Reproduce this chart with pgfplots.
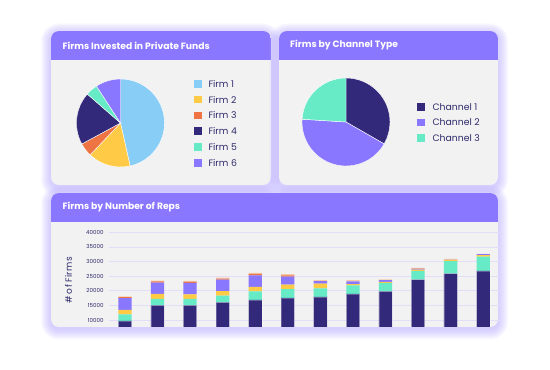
\documentclass[border=0pt]{standalone}
\usepackage{pgfplots}
\pgfplotsset{compat=1.18}
\usepackage{fontspec}
\setmainfont{Poppins}
\definecolor{hdr}{HTML}{8A77FF}
\definecolor{navy}{HTML}{33297B}
\definecolor{txt}{HTML}{2F2A6B}
\definecolor{fblue}{HTML}{88CDF6}
\definecolor{fyel}{HTML}{FFCB47}
\definecolor{forg}{HTML}{EF7443}
\definecolor{mint}{HTML}{67EAC6}
\definecolor{purp}{HTML}{8A77FF}
\definecolor{peach}{HTML}{F5C9A8}
\definecolor{cardbg}{HTML}{F2F2F2}
\definecolor{gridc}{HTML}{E4DDF8}
\definecolor{glow}{HTML}{B9ACFF}
\newcommand\pieslice[3]{\filldraw[fill=#1, draw=white, line width=0.4pt] (axis cs:0,0) -- ++({90-3.6*#2}:44pt) arc[start angle={90-3.6*#2}, end angle={90-3.6*#3}, radius=44pt] -- cycle;}
\newcommand\card[5]{% x1 y1 x2 y2 headerbottom y
  \foreach \k in {1,...,10}{
    \fill[glow, opacity=0.07, rounded corners={8pt+\k pt}] (#1pt-\k pt,#2pt-\k pt-2.5pt) rectangle (#3pt+\k pt,#4pt+\k pt-2.5pt);
  }
  \fill[cardbg, rounded corners=8pt] (#1pt,#2pt) rectangle (#3pt,#4pt);
  \begin{scope}
    \clip[rounded corners=8pt] (#1pt,#2pt) rectangle (#3pt,#4pt);
    \fill[hdr] (#1pt,#5pt) rectangle (#3pt,#4pt);
  \end{scope}}
\begin{document}
\begin{tikzpicture}
\fill[white] (0pt,0pt) rectangle (550pt,370pt);
% cards
\card{51}{185}{271}{339}{310}
\card{279}{185}{498}{339}{310}
\card{51}{43}{498}{177}{148}
% titles
\node[anchor=west, inner xsep=0pt, text=white, font=\bfseries\fontsize{9.2}{11}\selectfont] at (62.5pt,324.5pt) {Firms Invested in Private Funds};
\node[anchor=west, inner xsep=0pt, text=white, font=\bfseries\fontsize{9.2}{11}\selectfont] at (290pt,324.5pt) {Firms by Channel Type};
\node[anchor=west, inner xsep=0pt, text=white, font=\bfseries\fontsize{9.2}{11}\selectfont] at (62.5pt,162.7pt) {Firms by Number of Reps};
% pie 1
\begin{axis}[at={(120.5pt,247pt)}, anchor=center, scale only axis, width=88pt, height=88pt,
  xmin=-1, xmax=1, ymin=-1, ymax=1, hide axis]
\pieslice{fblue}{0}{46.5}
\pieslice{fyel}{46.5}{62.1}
\pieslice{forg}{62.1}{67.1}
\pieslice{navy}{67.1}{86.4}
\pieslice{mint}{86.4}{90.8}
\pieslice{purp}{90.8}{100}
\end{axis}
% legend 1
\foreach \c/\l [count=\i] in {fblue/Firm 1,fyel/Firm 2,forg/Firm 3,navy/Firm 4,mint/Firm 5,purp/Firm 6}{
  \fill[\c] (197.7pt-3.85pt,370pt-83.7pt-15.86pt*\i+15.86pt-3.85pt) rectangle ++(7.7pt,7.7pt);
  \node[anchor=west, inner sep=0pt, text=txt, font=\fontsize{9.3}{10}\selectfont] at (208.3pt,370pt-83.7pt-15.86pt*\i+15.86pt) {\l};
}
% pie 2
\begin{axis}[at={(346pt,248pt)}, anchor=center, scale only axis, width=88pt, height=88pt,
  xmin=-1, xmax=1, ymin=-1, ymax=1, hide axis]
\pieslice{navy}{0}{33.3}
\pieslice{purp}{33.3}{76.0}
\pieslice{mint}{76.0}{100}
\end{axis}
\foreach \c/\l [count=\i] in {navy/Channel 1,purp/Channel 2,mint/Channel 3}{
  \fill[\c] (421.2pt-3.85pt,370pt-107pt-15.6pt*\i+15.6pt-3.85pt) rectangle ++(7.7pt,7.7pt);
  \node[anchor=west, inner sep=0pt, text=txt, font=\fontsize{9.3}{10}\selectfont] at (432.3pt,370pt-107pt-15.6pt*\i+15.6pt) {\l};
}
% bar chart
\node[rotate=90, text=txt, font=\fontsize{9}{10}\selectfont] at (68.5pt,90pt) {\#\hspace{1.5pt}o\hspace{0.8pt}f\hspace{1.5pt}F\hspace{0.5pt}i\hspace{0.5pt}r\hspace{0.5pt}m\hspace{0.5pt}s};
\begin{axis}[at={(109pt,43pt)}, anchor=south west, scale only axis, width=390.5pt, height=94.7pt,
  xmin=-0.49, xmax=11.5, ymin=7600, ymax=40000,
  ybar stacked, bar width=13.3pt,
  axis line style={draw=none}, major tick length=0pt,
  xtick=\empty, ytick={10000,15000,...,40000}, scaled y ticks=false,
  ymajorgrids, grid style={gridc, line width=0.8pt},
  yticklabel style={font=\fontsize{5.5}{6}\selectfont, text=txt, xshift=-2pt},
  /pgf/number format/.cd, 1000 sep={}, assume math mode=true]
\addplot[fill=navy, draw=white, draw opacity=0.25, line width=0.5pt] coordinates {(0,9700) (1,15000) (2,15000) (3,16000) (4,16900) (5,17600) (6,17900) (7,18900) (8,19800) (9,23800) (10,25900) (11,26800)};
\addplot[fill=mint, draw=none] coordinates {(0,2200) (1,2200) (2,2200) (3,2300) (4,2900) (5,3000) (6,2900) (7,2950) (8,2900) (9,3000) (10,4200) (11,4900)};
\addplot[fill=fyel, draw=none] coordinates {(0,1600) (1,1700) (2,1600) (3,1600) (4,1500) (5,1500) (6,1600) (7,450) (8,350) (9,450) (10,350) (11,450)};
\addplot[fill=purp, draw=none] coordinates {(0,4000) (1,3900) (2,3900) (3,3900) (4,4000) (5,2700) (6,900) (7,900) (8,550) (9,200) (10,100) (11,400)};
\addplot[fill=forg, draw=none] coordinates {(0,350) (1,450) (2,450) (3,350) (4,450) (5,500) (6,0) (7,0) (8,0) (9,100) (10,0) (11,0)};
\addplot[fill=peach, draw=none] coordinates {(0,250) (1,200) (2,200) (3,300) (4,350) (5,350) (6,350) (7,450) (8,300) (9,250) (10,350) (11,100)};
\end{axis}
\end{tikzpicture}
\end{document}
